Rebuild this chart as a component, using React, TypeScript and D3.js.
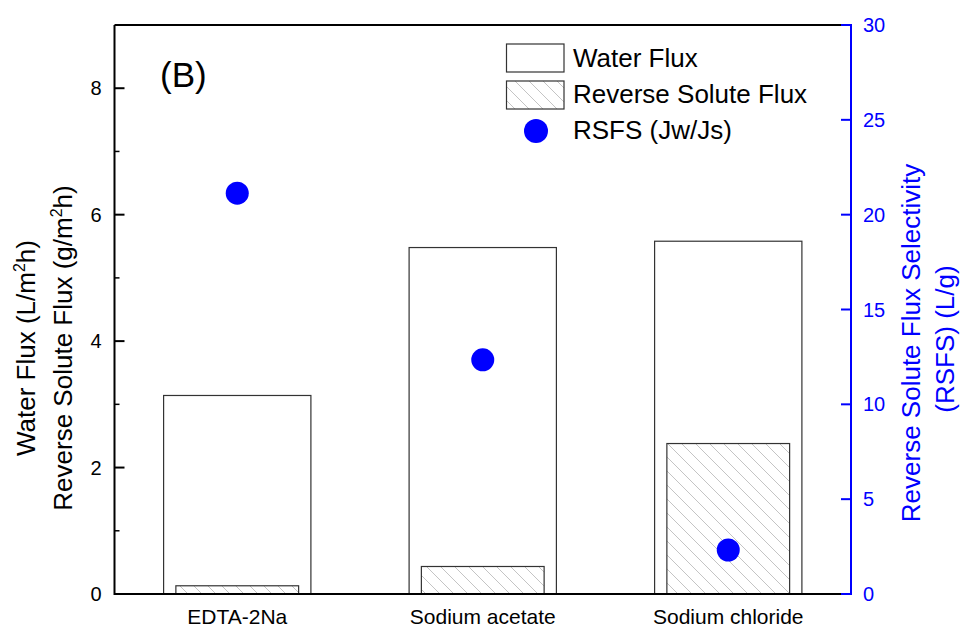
import React from "react";
import * as d3 from "d3";

const categories = ["EDTA-2Na", "Sodium acetate", "Sodium chloride"];
const waterFlux = [3.14, 5.48, 5.58];
const reverseSoluteFlux = [0.13, 0.435, 2.38];
const rsfs = [21.13, 12.35, 2.32];
const leftTicks = [0, 2, 4, 6, 8];
const leftMinorTicks = [1, 3, 5, 7];
const rightTicks = [0, 5, 10, 15, 20, 25, 30];
const legendLabels = ["Water Flux", "Reverse Solute Flux", "RSFS (Jw/Js)"];

const W = 960;
const H = 628;
const L = 114.5;
const R = 851;
const T = 25;
const B = 594;
const FONT = "'Liberation Sans', Arial, Helvetica, sans-serif";
const BLUE = "#0000ff";

export default function App() {
  const x = d3.scaleBand<string>().domain(categories).range([L, R]).padding(0);
  const yL = d3.scaleLinear().domain([0, 9]).range([B, T]);
  const yR = d3.scaleLinear().domain([0, 30]).range([B, T]);
  const bw = x.bandwidth();

  return (
    <svg
      width={W}
      height={H}
      style={{ position: "absolute", left: 0, top: 0, background: "#fff" }}
      fontFamily={FONT}
    >
      <defs>
        <pattern id="hatch" patternUnits="userSpaceOnUse" width={14} height={14}>
          <path d="M0,0 L14,14 M-2,12 L2,16 M12,-2 L16,2" stroke="#bdbdbd" strokeWidth={0.9} />
        </pattern>
      </defs>
      <rect x={0} y={0} width={W} height={H} fill="#fff" />

      {/* water flux bars */}
      {categories.map((c, i) => (
        <rect
          key={"w" + c}
          x={x(c)! + bw * 0.2}
          y={yL(waterFlux[i])}
          width={bw * 0.6}
          height={B - yL(waterFlux[i])}
          fill="#fff"
          stroke="#333"
          strokeWidth={1.2}
        />
      ))}
      {/* reverse solute flux bars */}
      {categories.map((c, i) => (
        <rect
          key={"s" + c}
          x={x(c)! + bw * 0.25}
          y={yL(reverseSoluteFlux[i])}
          width={bw * 0.5}
          height={B - yL(reverseSoluteFlux[i])}
          fill="url(#hatch)"
          stroke="#333"
          strokeWidth={1.2}
        />
      ))}
      {/* RSFS dots */}
      {categories.map((c, i) => (
        <circle key={"d" + c} cx={x(c)! + bw / 2} cy={yR(rsfs[i])} r={11.5} fill={BLUE} />
      ))}

      {/* frame */}
      <line x1={L} x2={R} y1={T} y2={T} stroke="#000" strokeWidth={2} />
      <line x1={L} x2={R} y1={B} y2={B} stroke="#000" strokeWidth={2} />
      <line x1={L} x2={L} y1={T} y2={B + 1} stroke="#000" strokeWidth={2} />
      <line x1={R} x2={R} y1={T - 1} y2={B + 1} stroke={BLUE} strokeWidth={2} />

      {/* left axis ticks */}
      {leftTicks.map((t) => (
        <g key={"lt" + t}>
          <line x1={L} x2={L + 10} y1={yL(t)} y2={yL(t)} stroke="#000" strokeWidth={2} />
          <text x={L - 13} y={yL(t) + 7} textAnchor="end" fontSize={20} fill="#000">
            {t}
          </text>
        </g>
      ))}
      {leftMinorTicks.map((t) => (
        <line key={"lm" + t} x1={L} x2={L + 5} y1={yL(t)} y2={yL(t)} stroke="#000" strokeWidth={1.5} />
      ))}

      {/* right axis ticks */}
      {rightTicks.map((t) => (
        <g key={"rt" + t}>
          <line x1={R - 10} x2={R} y1={yR(t)} y2={yR(t)} stroke={BLUE} strokeWidth={2} />
          <text x={R + 12} y={yR(t) + 7} textAnchor="start" fontSize={20} fill={BLUE}>
            {t}
          </text>
        </g>
      ))}

      {/* category labels */}
      {categories.map((c) => (
        <text key={"c" + c} x={x(c)! + bw / 2} y={624} textAnchor="middle" fontSize={21} fill="#000">
          {c}
        </text>
      ))}

      {/* left axis title */}
      <g transform="translate(35,348) rotate(-90)">
        <text x={0} y={0} textAnchor="middle" fontSize={26} fill="#000">
          Water Flux (L/m<tspan fontSize={16} dy={-10}>2</tspan>
          <tspan dy={10}>h)</tspan>
        </text>
      </g>
      <g transform="translate(72,348) rotate(-90)">
        <text x={0} y={0} textAnchor="middle" fontSize={26} fill="#000">
          Reverse Solute Flux (g/m<tspan fontSize={16} dy={-10}>2</tspan>
          <tspan dy={10}>h)</tspan>
        </text>
      </g>

      {/* right axis title */}
      <g transform="translate(920,343) rotate(-90)">
        <text x={0} y={0} textAnchor="middle" fontSize={26} fill={BLUE}>
          Reverse Solute Flux Selectivity
        </text>
      </g>
      <g transform="translate(954,339) rotate(-90)">
        <text x={0} y={0} textAnchor="middle" fontSize={26} fill={BLUE}>
          (RSFS) (L/g)
        </text>
      </g>

      {/* panel label */}
      <text x={160} y={87} fontSize={35} fill="#000">
        (B)
      </text>

      {/* legend */}
      <rect x={506.5} y={44} width={57.5} height={28} fill="#fff" stroke="#333" strokeWidth={1.2} />
      <rect x={506.5} y={81} width={57.5} height={28} fill="url(#hatch)" stroke="#333" strokeWidth={1.2} />
      <circle cx={536} cy={131} r={12} fill={BLUE} />
      <text x={573} y={67} fontSize={26} fill="#000">
        {legendLabels[0]}
      </text>
      <text x={573} y={103} fontSize={26} fill="#000">
        {legendLabels[1]}
      </text>
      <text x={573} y={139} fontSize={26} fill="#000">
        {legendLabels[2]}
      </text>
    </svg>
  );
}
